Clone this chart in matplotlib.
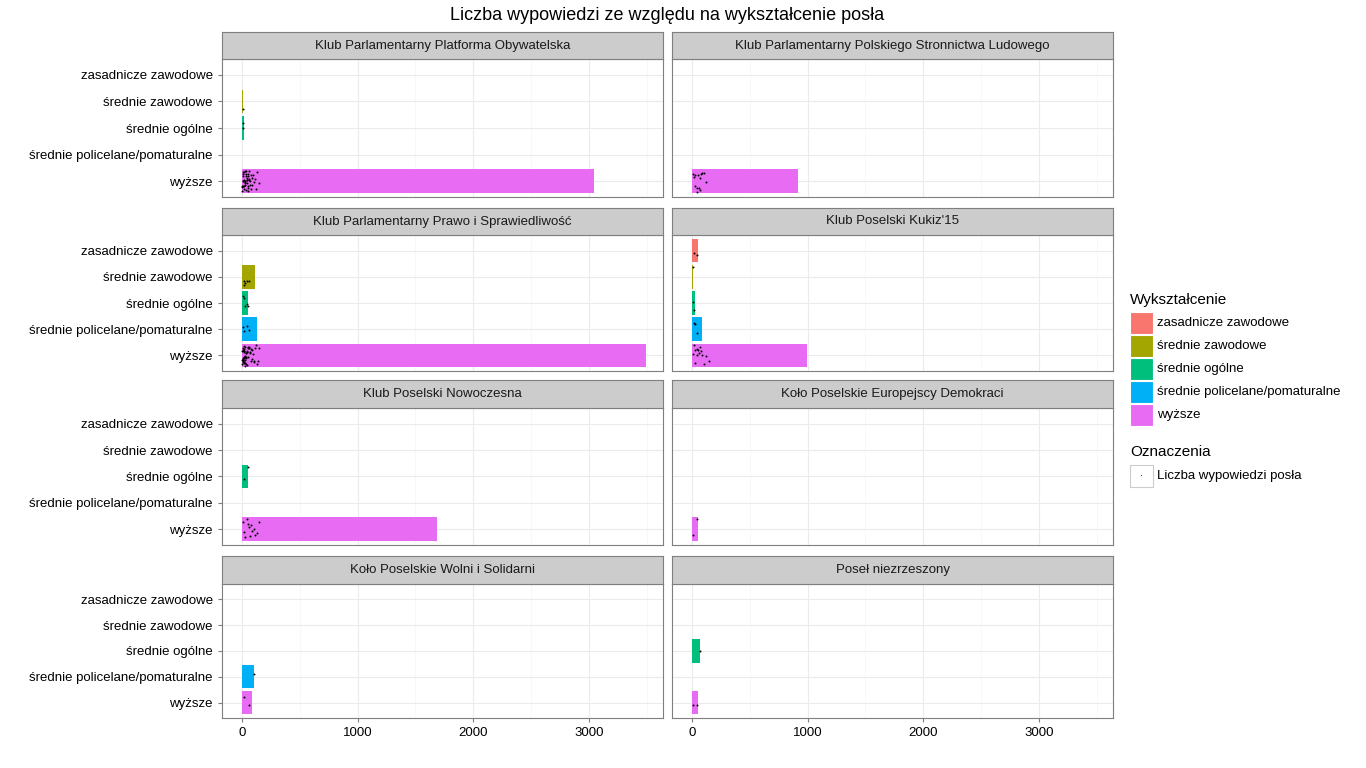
import matplotlib
matplotlib.use("Agg")
import matplotlib.pyplot as plt
from matplotlib.patches import Rectangle
import numpy as np

plt.rcParams['font.family'] = ['Liberation Sans', 'DejaVu Sans']

clubs = ["Klub Parlamentarny Platforma Obywatelska", "Klub Parlamentarny Polskiego Stronnictwa Ludowego",
         "Klub Parlamentarny Prawo i Sprawiedliwość", "Klub Poselski Kukiz'15",
         "Klub Poselski Nowoczesna", "Koło Poselskie Europejscy Demokraci",
         "Koło Poselskie Wolni i Solidarni", "Poseł niezrzeszony"]
levels = ["wyższe", "średnie policelane/pomaturalne", "średnie ogólne", "średnie zawodowe", "zasadnicze zawodowe"]
colors = ["#E76BF3", "#00B0F6", "#00BF7D", "#A3A500", "#F8766D"]
# totals per club, order of levels above
totals = {
    clubs[0]: [3040, 0, 15, 5, 0],
    clubs[1]: [920, 0, 0, 0, 0],
    clubs[2]: [3490, 130, 55, 110, 0],
    clubs[3]: [990, 90, 30, 10, 50],
    clubs[4]: [1690, 0, 55, 0, 0],
    clubs[5]: [55, 0, 0, 0, 0],
    clubs[6]: [85, 100, 0, 0, 0],
    clubs[7]: [55, 0, 70, 0, 0],
}
# per-MP counts (estimated)
mp_counts = {
    (0, 0): [5, 10, 15, 20, 25, 30, 35, 40, 45, 50, 55, 60, 70, 80, 90, 100, 120, 150, 2, 8, 12, 18, 22, 28, 33, 38, 42, 48, 52, 58, 65, 75, 85, 95, 110, 130, 4, 14, 24, 34, 44, 54, 64, 3, 6, 9],
    (0, 2): [5, 10], (0, 3): [5],
    (1, 0): [10, 20, 30, 40, 50, 60, 70, 80, 90, 100, 120, 25, 45, 65],
    (2, 0): [3, 6, 9, 12, 15, 18, 21, 24, 27, 30, 33, 36, 40, 45, 50, 55, 60, 70, 80, 90, 100, 110, 130, 150, 5, 8, 11, 14, 17, 20, 23, 26, 29, 32, 35, 38, 42, 47, 52, 58, 65, 75, 85, 95, 105, 120, 140, 2, 4, 7, 10, 13, 16, 19],
    (2, 1): [20, 40, 60, 10], (2, 2): [10, 20, 30, 40, 50], (2, 3): [15, 30, 45, 60, 20],
    (3, 0): [10, 20, 30, 40, 50, 60, 70, 80, 90, 100, 120, 150, 25, 45],
    (3, 1): [20, 40, 30], (3, 2): [10, 20], (3, 3): [5], (3, 4): [20, 40],
    (4, 0): [10, 30, 50, 70, 90, 110, 150, 20, 40, 60, 80, 100, 130],
    (4, 2): [20, 55], (5, 0): [10, 40], (6, 0): [20, 60], (6, 1): [100],
    (7, 0): [10, 40], (7, 2): [70],
}

rng = np.random.default_rng(1)
fig = plt.figure(figsize=(13.66, 7.68), dpi=100)
W, H = 1366, 768
lefts = [222, 672]
pw = 441
rows = [(32, 59, 197), (208, 235, 371), (380, 408, 545), (556, 584, 718)]
xlim = (-173, 3640)

for i, c in enumerate(clubs):
    r, col = divmod(i, 2)
    st, pt, pb = rows[r]
    x0 = lefts[col]
    ax = fig.add_axes([x0 / W, 1 - pb / H, pw / W, (pb - pt) / H])
    sax = fig.add_axes([x0 / W, 1 - pt / H, pw / W, (pt - st) / H])
    sax.set_xticks([]); sax.set_yticks([])
    sax.set_facecolor("#CCCCCC")
    for s in sax.spines.values():
        s.set_color("#7F7F7F"); s.set_linewidth(0.8)
    sax.text(0.5, 0.5, c, ha="center", va="center", fontsize=9.5, color="#1A1A1A", transform=sax.transAxes)
    ypos = np.arange(len(levels))
    ax.barh(ypos, totals[c], height=0.9, color=colors, zorder=2)
    for j in range(len(levels)):
        vals = mp_counts.get((i, j), [])
        if vals:
            jit = rng.uniform(-0.4, 0.4, len(vals))
            ax.scatter(vals, j + jit, s=2, color="black", zorder=3, linewidths=0)
    ax.set_xlim(*xlim)
    ax.set_ylim(-0.6, 4.6)
    ax.set_xticks([0, 1000, 2000, 3000])
    ax.set_xticks([500, 1500, 2500, 3500], minor=True)
    ax.set_yticks(ypos)
    ax.grid(True, which="major", color="#EBEBEB", linewidth=0.8, zorder=0)
    ax.grid(True, which="minor", axis="x", color="#F5F5F5", linewidth=0.5, zorder=0)
    ax.set_axisbelow(True)
    for s in ax.spines.values():
        s.set_color("#7F7F7F"); s.set_linewidth(0.8)
    ax.tick_params(which="both", length=3, color="#7F7F7F", labelsize=9.5, labelcolor="black")
    ax.tick_params(which="minor", length=0)
    if col == 0:
        ax.set_yticklabels(levels)
    else:
        ax.set_yticklabels([])
        ax.tick_params(axis="y", length=0)
    if r < 3:
        ax.set_xticklabels([])
        ax.tick_params(axis="x", length=0)

fig.text(667 / W, 1 - 16 / H, "Liczba wypowiedzi ze względu na wykształcenie posła", ha="center", va="center", fontsize=13)

# legend
lx = 1130
fig.text(lx / W, 1 - 300 / H, "Wykształcenie", fontsize=11, va="center")
leg_levels = levels[::-1]; leg_colors = colors[::-1]
for k, (lab, colr) in enumerate(zip(leg_levels, leg_colors)):
    yc = 323 + k * 23
    fig.patches.append(Rectangle((lx / W, 1 - (yc + 11) / H), 23 / W, 22 / H, transform=fig.transFigure,
                                 facecolor=colr, edgecolor="white", linewidth=0.8))
    fig.text((lx + 27) / W, 1 - yc / H, lab, fontsize=9.5, va="center")
fig.text(lx / W, 1 - 452 / H, "Oznaczenia", fontsize=11, va="center")
fig.patches.append(Rectangle((lx / W, 1 - 487 / H), 23 / W, 22 / H, transform=fig.transFigure,
                             facecolor="white", edgecolor="#CCCCCC", linewidth=0.8))
fig.text((lx + 11.5) / W, 1 - 476 / H, "·", fontsize=7, ha="center", va="center")
fig.text((lx + 27) / W, 1 - 476 / H, "Liczba wypowiedzi posła", fontsize=9.5, va="center")

fig.savefig("out.png", dpi=100)
